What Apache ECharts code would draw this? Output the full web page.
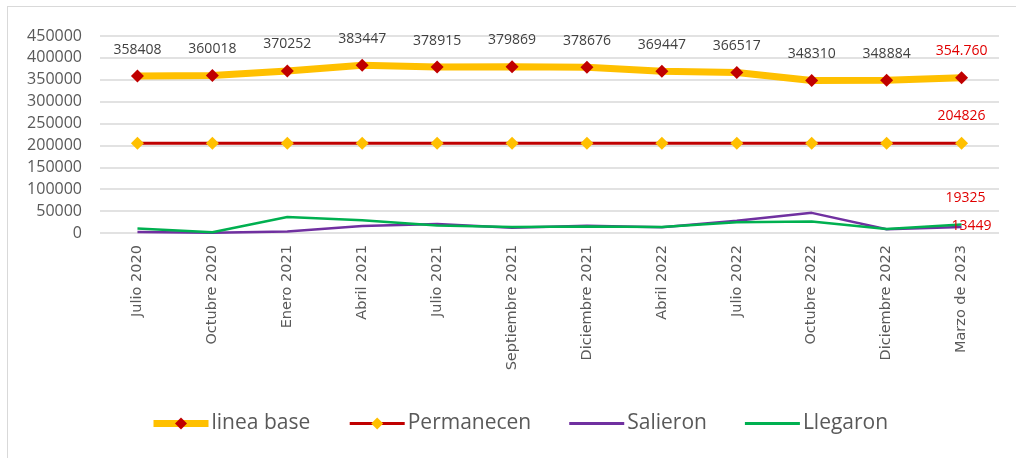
<!DOCTYPE html>
<html>
<head>
<meta charset="utf-8">
<script src="https://cdn.jsdelivr.net/npm/echarts@6/dist/echarts.min.js"></script>
<style>
  html, body { margin: 0; padding: 0; background: #fff; }
  #frame { position: absolute; left: 7px; top: 6px; width: 1020px; height: 460px; border: 1px solid #d9d9d9; box-sizing: border-box; }
  #chart { position: absolute; left: 0; top: 0; width: 1016px; height: 458px; }
</style>
</head>
<body>
<div id="frame"></div>
<div id="chart"></div>
<script>
// periods on the x axis
const periodos = ['Julio 2020', 'Octubre 2020', 'Enero 2021', 'Abril 2021', 'Julio 2021', 'Septiembre 2021',
    'Diciembre 2021', 'Abril 2022', 'Julio 2022', 'Octubre 2022', 'Diciembre 2022', 'Marzo de 2023'];

const lineaBase = [358408, 360018, 370252, 383447, 378915, 379869, 378676, 369447, 366517, 348310, 348884, 354760];
const permanecen = [204826, 204826, 204826, 204826, 204826, 204826, 204826, 204826, 204826, 204826, 204826, 204826];
const salieron = [2000, 500, 3500, 16000, 20500, 12000, 16500, 13000, 28000, 46000, 8500, 13449];
const llegaron = [10000, 1500, 36500, 29000, 17000, 13500, 15000, 13500, 24500, 26500, 9000, 19325];

const chart = echarts.init(document.getElementById('chart'));
const last = periodos.length - 1;
const font = '"Open Sans", "Noto Sans", sans-serif';
const rojo = '#E00000';
// plain line icon for the legend of the series without markers
const lineIcon = 'path://M0,0 L55,0 L55,3 L0,3 Z';

const option = {
    animation: false,
    textStyle: { fontFamily: font },
    grid: { left: 100, right: 17, top: 36, bottom: 225 },
    legend: {
        top: 408,
        left: 145,
        itemWidth: 55,
        itemHeight: 15,
        itemGap: 38,
        textStyle: { fontSize: 21, color: '#595959', fontFamily: font, padding: [0, 0, 0, -2] },
        data: [
            { name: 'linea base', lineStyle: { width: 7, color: '#FFC000' } },
            { name: 'Permanecen', lineStyle: { width: 3, color: '#C00000' } },
            { name: 'Salieron', icon: lineIcon, itemStyle: { color: '#7030A0' } },
            { name: 'Llegaron', icon: lineIcon, itemStyle: { color: '#00B050' } }
        ]
    },
    xAxis: {
        type: 'category',
        data: periodos,
        boundaryGap: true,
        axisLine: { show: false },
        axisTick: { show: false },
        axisLabel: { rotate: 90, fontSize: 14.5, color: '#595959', margin: 12, interval: 0, fontFamily: '"DejaVu Sans", sans-serif' }
    },
    yAxis: {
        type: 'value',
        min: 0,
        max: 450000,
        interval: 50000,
        axisLine: { show: false },
        axisTick: { show: false },
        axisLabel: { fontSize: 16, color: '#595959', margin: 18, formatter: function (v) { return String(v); } },
        splitLine: { lineStyle: { color: '#d9d9d9', width: 1.5 } }
    },
    series: [
        {
            name: 'linea base',
            type: 'line',
            data: lineaBase,
            lineStyle: { color: '#FFC000', width: 7 },
            itemStyle: { color: '#C00000' },
            symbol: 'diamond',
            symbolSize: 13,
            z: 4,
            label: {
                show: true,
                position: 'top',
                distance: 13,
                fontSize: 14,
                color: '#404040',
                formatter: function (p) {
                    return p.dataIndex === last ? '{r|354.760}' : String(p.value);
                },
                rich: { r: { color: rojo, fontSize: 14, fontFamily: font } }
            }
        },
        {
            name: 'Permanecen',
            type: 'line',
            data: permanecen,
            lineStyle: { color: '#C00000', width: 3 },
            itemStyle: { color: '#FFC000' },
            symbol: 'diamond',
            symbolSize: 13,
            z: 3,
            label: {
                show: true,
                position: 'top',
                distance: 14,
                fontSize: 14,
                color: rojo,
                formatter: function (p) { return p.dataIndex === last ? String(p.value) : ''; }
            }
        },
        {
            name: 'Salieron',
            type: 'line',
            data: salieron,
            lineStyle: { color: '#7030A0', width: 2.5 },
            itemStyle: { color: '#7030A0' },
            showSymbol: false,
            z: 2,
            endLabel: {
                show: true,
                distance: -10,
                offset: [0, -1],
                fontSize: 14,
                color: rojo,
                formatter: function (p) { return String(p.value); }
            }
        },
        {
            name: 'Llegaron',
            type: 'line',
            data: llegaron,
            lineStyle: { color: '#00B050', width: 2.5 },
            itemStyle: { color: '#00B050' },
            showSymbol: false,
            z: 2,
            endLabel: {
                show: true,
                distance: -16,
                offset: [0, -27],
                fontSize: 14,
                color: rojo,
                formatter: function (p) { return String(p.value); }
            }
        }
    ]
};

chart.setOption(option);
</script>
</body>
</html>
